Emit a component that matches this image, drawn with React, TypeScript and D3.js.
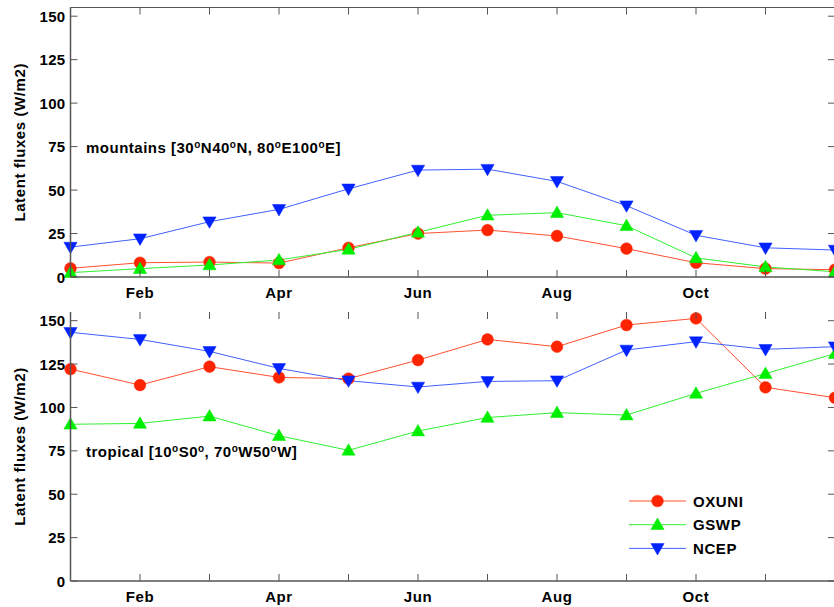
import React from "react";
import { scaleLinear, line, symbol, symbolCircle, symbolTriangle } from "d3";

const months = ["Jan", "Feb", "Mar", "Apr", "May", "Jun", "Jul", "Aug", "Sep", "Oct", "Nov", "Dec"];
const monthTicks = ["Feb", "Apr", "Jun", "Aug", "Oct"];
const yTicks = [0, 25, 50, 75, 100, 125, 150];

// mountains [30N-40N, 80E-100E]
const mountOxuni = [5, 8.2, 8.6, 8, 16.8, 25, 27, 23.6, 16.3, 8.2, 4.8, 4.2];
const mountGswp = [2.5, 4.8, 6.9, 9.8, 15.9, 25.7, 35.5, 37, 29.5, 11, 5.8, 3];
const mountNcep = [17.2, 22, 31.8, 38.9, 50.7, 61.5, 62, 55, 41, 24, 16.8, 15.5];

// tropical [10S-0, 70W-50W]
const tropOxuni = [122.1, 112.9, 123.5, 117.3, 116.6, 127.3, 139.2, 135, 147.5, 151.3, 111.6, 105.6];
const tropGswp = [90.3, 90.8, 95, 83.7, 75.3, 86.4, 94.2, 97, 95.6, 108.1, 119.5, 131];
const tropNcep = [143.3, 139.2, 132.3, 122.5, 115.4, 111.8, 115, 115.4, 133.1, 137.9, 133.5, 135];

const seriesNames = ["OXUNI", "GSWP", "NCEP"];
const colors = ["#ff2400", "#00ee00", "#0022ff"];
const lineColors = ["#ff5030", "#30f030", "#4060ff"];

const W = 834;
const H = 607;
const FONT = "'Liberation Sans', Arial, Helvetica, sans-serif";

const x = scaleLinear().domain([0, 11]).range([70.5, 835]);

const markerPath = (i: number) => {
  if (i === 0) return symbol(symbolCircle, 108)() as string;
  return symbol(symbolTriangle, 76)() as string;
};

const Marker = ({ i, cx, cy }: { i: number; cx: number; cy: number }) => {
  const rot = i === 2 ? " rotate(180)" : "";
  const dy = i === 1 ? 1 : i === 2 ? -1 : 0;
  return (
    <path
      d={markerPath(i)}
      transform={`translate(${cx},${cy + dy})${rot}`}
      fill={colors[i]}
      stroke={colors[i]}
      strokeWidth={0.5}
    />
  );
};

const Deg = () => (
  <tspan baselineShift="super" fontSize={10}>o</tspan>
);

type PanelProps = {
  top: number;
  bottom: number;
  data: number[][];
  label: React.ReactNode;
  labelY: number;
  drawTop: boolean;
  legend?: boolean;
};

const Panel = ({ top, bottom, data, label, labelY, drawTop, legend }: PanelProps) => {
  const y = scaleLinear().domain([0, 155]).range([bottom, top]);
  const left = x(0);
  const right = x(11);
  const axisColor = "#555";
  const tickLen = 7;
  const path = line<number>()
    .x((_, i) => x(i))
    .y((d) => y(d));

  return (
    <g>
      {/* series */}
      {data.map((s, i) => (
        <path key={"l" + i} d={path(s) as string} fill="none" stroke={lineColors[i]} strokeWidth={1} />
      ))}
      {data.map((s, i) =>
        s.map((v, j) => <Marker key={`m${i}-${j}`} i={i} cx={x(j)} cy={y(v)} />)
      )}

      {/* axes frame */}
      <line x1={left} x2={left} y1={top} y2={bottom} stroke={axisColor} strokeWidth={1.5} />
      <line x1={left} x2={right} y1={bottom} y2={bottom} stroke={axisColor} strokeWidth={1.5} />
      {drawTop && <line x1={left} x2={right} y1={top} y2={top} stroke={axisColor} strokeWidth={1} />}

      {/* x ticks */}
      {months.map((m, i) => (
        <g key={"xt" + m}>
          <line x1={x(i)} x2={x(i)} y1={bottom} y2={bottom - tickLen} stroke={axisColor} strokeWidth={1} />
          <line x1={x(i)} x2={x(i)} y1={top} y2={top + tickLen} stroke={axisColor} strokeWidth={1} />
        </g>
      ))}
      {months.map((m, i) =>
        monthTicks.includes(m) ? (
          <text key={"xl" + m} x={x(i)} y={bottom + 21} textAnchor="middle" fontFamily={FONT}
            fontWeight="bold" fontSize={15} letterSpacing={0.6}>
            {m}
          </text>
        ) : null
      )}

      {/* y ticks */}
      {yTicks.map((t) => (
        <g key={"yt" + t}>
          <line x1={left} x2={left + tickLen} y1={y(t)} y2={y(t)} stroke={axisColor} strokeWidth={1} />
          <line x1={right} x2={right - tickLen} y1={y(t)} y2={y(t)} stroke={axisColor} strokeWidth={1} />
          <text x={left - 5} y={y(t) + 5.5} textAnchor="end" fontFamily={FONT} fontWeight="bold"
            fontSize={15} letterSpacing={0.3}>
            {t}
          </text>
        </g>
      ))}

      {/* y label */}
      <text transform={`translate(25,${(top + bottom) / 2}) rotate(-90)`} textAnchor="middle"
        fontFamily={FONT} fontWeight="bold" fontSize={15} letterSpacing={0.6}>
        Latent fluxes (W/m2)
      </text>

      {/* region label */}
      <text x={86} y={labelY} fontFamily={FONT} fontWeight="bold" fontSize={15} letterSpacing={0.5}>
        {label}
      </text>

      {legend &&
        seriesNames.map((n, i) => {
          const ly = 501 + i * 23.7;
          return (
            <g key={"lg" + n}>
              <line x1={629} x2={686} y1={ly} y2={ly} stroke={lineColors[i]} strokeWidth={1} />
              <Marker i={i} cx={657.5} cy={ly} />
              <text x={693} y={ly + 5.5} fontFamily={FONT} fontWeight="bold" fontSize={15} letterSpacing={0.6}>
                {n}
              </text>
            </g>
          );
        })}
    </g>
  );
};

export default function App() {
  return (
    <svg width={W} height={H} style={{ position: "absolute", left: 0, top: 0, background: "#fff" }}>
      <rect width={W} height={H} fill="#fff" />
      <Panel
        top={7.5}
        bottom={277}
        data={[mountOxuni, mountGswp, mountNcep]}
        labelY={152.5}
        drawTop={true}
        label={
          <>
            mountains [30<Deg />N40<Deg />N, 80<Deg />E100<Deg />E]
          </>
        }
      />
      <Panel
        top={312}
        bottom={581}
        data={[tropOxuni, tropGswp, tropNcep]}
        labelY={457}
        drawTop={false}
        legend
        label={
          <>
            tropical [10<Deg />S0<Deg />, 70<Deg />W50<Deg />W]
          </>
        }
      />
    </svg>
  );
}
